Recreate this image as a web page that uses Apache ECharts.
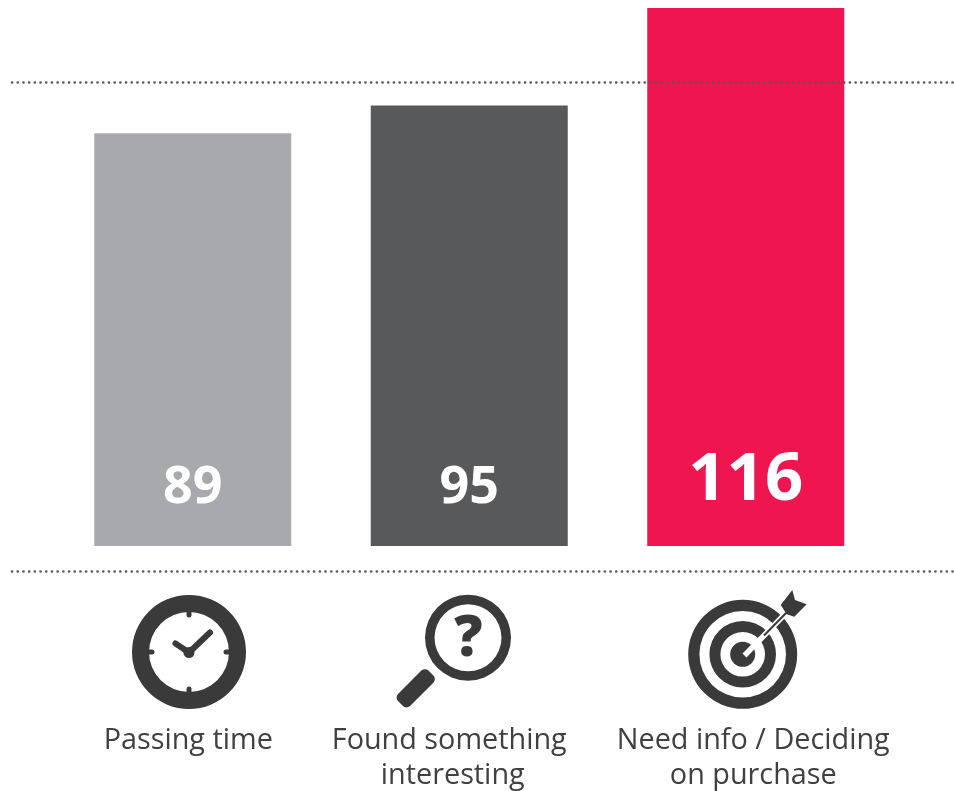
<!DOCTYPE html>
<html><head><meta charset="utf-8">
<style>html,body{margin:0;padding:0;background:#fff}#c{width:954px;height:791px}</style>
<script src="https://cdn.jsdelivr.net/npm/echarts@6/dist/echarts.min.js"></script>
</head><body><div id="c"></div>
<script>
const categories = ['Passing time', 'Found something\ninteresting', 'Need info / Deciding\non purchase'];
const values = [89, 95, 116];
const referenceValue = 100;
const barColors = ['#A7A9AC', '#58595B', '#EF1650'];
const labelSizes = [52, 52, 67];
const labelShift = [-4.5, -20, 7.5];
const dark = '#3A3A3A';
const ink = '#404040';
const dotted = {color:'#58595B', type:[0.1,5.6], width:2.6, cap:'round'};
const clockIcon = [
  {type:'ring',shape:{cx:189,cy:652,r:57,r0:40},style:{fill:dark}},
  ...[[189,612,189,615],[189,692,189,689],[149,652,152,652],[229,652,226,652]].map(p=>({type:'line',shape:{x1:p[0],y1:p[1],x2:p[2],y2:p[3]},style:{stroke:dark,lineWidth:5,lineCap:'round'}})),
  {type:'polyline',shape:{points:[[175.5,643.5],[189,652.5],[210,632.5]]},style:{fill:'none',stroke:dark,lineWidth:6,lineCap:'round',lineJoin:'round'}},
  {type:'circle',shape:{cx:189,cy:652.5,r:5.5},style:{fill:dark}}
];
const magnifierIcon = [
  {type:'ring',shape:{cx:468,cy:637.7,r:43,r0:33.5},style:{fill:dark}},
  {type:'rect',x:415.7,y:688.3,rotation:Math.PI/4,shape:{x:-21.5,y:-8.5,width:43,height:17,r:5},style:{fill:dark}},
  {type:'text',style:{text:'?',x:468.5,y:640,align:'center',verticalAlign:'middle',font:'800 56px "Open Sans"',fill:dark}}
];
const targetIcon = [
  {type:'ring',shape:{cx:742.7,cy:654.3,r:54.5,r0:43.3},style:{fill:dark}},
  {type:'ring',shape:{cx:742.7,cy:654.3,r:33.3,r0:22.3},style:{fill:dark}},
  {type:'circle',shape:{cx:742.7,cy:654.3,r:12.5},style:{fill:dark}},
  {type:'line',shape:{x1:744.5,y1:655.5,x2:787,y2:612},style:{stroke:'#fff',lineWidth:5.5}},
  {type:'line',shape:{x1:764,y1:635.5,x2:790,y2:609},style:{stroke:dark,lineWidth:2}},
  {type:'polygon',shape:{points:[[780.7,605],[792.3,590],[795,600],[806.7,604.3],[794.3,616.7],[786.7,614.3]]},style:{fill:dark}}
];
const chart = echarts.init(document.getElementById('c'), null, {renderer:'canvas'});
chart.setOption({
  animation:false,
  backgroundColor:'#fff',
  grid:{left:54.5,width:829.5,top:8,height:538,outerBoundsMode:'none'},
  xAxis:{type:'category',
    data:categories.map((c,i)=>({value:c,textStyle:{padding:labelShift[i]<0?[0,-2*labelShift[i],0,0]:[0,0,0,2*labelShift[i]]}})),
    axisLine:{show:false},axisTick:{show:false},
    axisLabel:{interval:0,margin:177,fontFamily:'"Open Sans"',fontSize:28.8,lineHeight:35,color:ink,align:'center',verticalAlign:'top',
      formatter:(v)=>v.replace('\ninteresting','\n{s|interesting}'),
      rich:{s:{padding:[0,0,0,7],fontFamily:'"Open Sans"',fontSize:28.8,lineHeight:35,color:ink}}}},
  yAxis:{type:'value',min:0,max:116,show:false,splitLine:{show:false}},
  series:[{type:'bar',barWidth:197,
    data:values.map((v,i)=>({value:v,itemStyle:{color:barColors[i]},
      label:{show:true,position:'insideBottom',distance:32,fontFamily:'"Open Sans"',fontWeight:700,fontSize:labelSizes[i],color:'#fff'}})),
    markLine:{silent:true,symbol:'none',label:{show:false},lineStyle:dotted,animation:false,
      data:[[{x:12,yAxis:referenceValue},{x:954,yAxis:referenceValue}],[{x:12,y:571},{x:954,y:571}]]}
  }],
  graphic:{elements:[...clockIcon,...magnifierIcon,...targetIcon].map(e=>({...e,silent:true}))}
});
</script></body></html>
